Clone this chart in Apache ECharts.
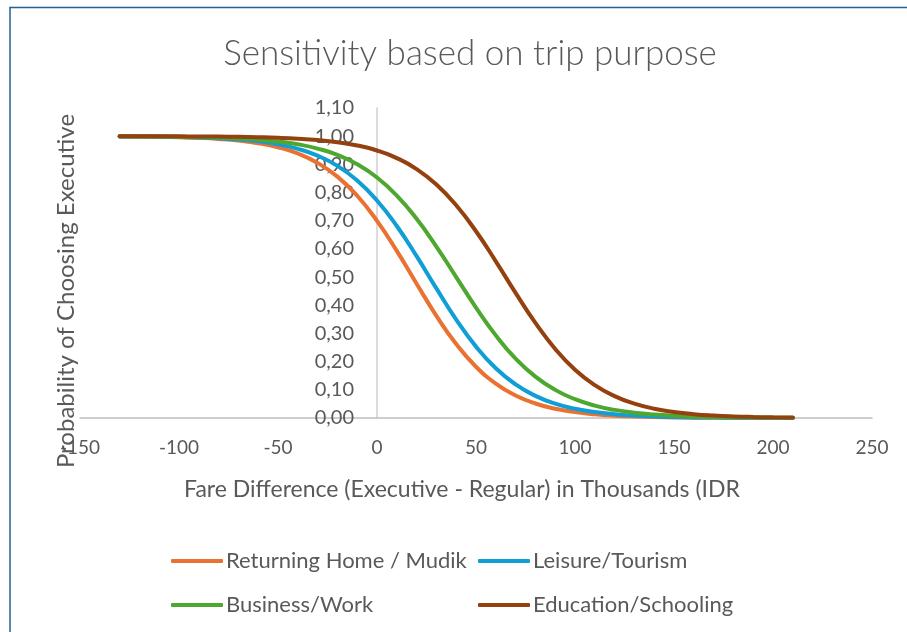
<!DOCTYPE html>
<html>
<head>
<meta charset="utf-8">
<script src="https://cdn.jsdelivr.net/npm/echarts@6/dist/echarts.min.js"></script>
<style>
html,body{margin:0;padding:0;background:#fff;}
#c{width:907px;height:632px;}
</style>
</head>
<body>
<div id="c"></div>
<script>
const fareDiff = [-130,-120,-110,-100,-90,-80,-70,-60,-50,-40,-30,-20,-10,0,10,20,30,40,50,60,70,80,90,100,110,120,130,140,150,160,170,180,190,200,210];
const returningHome = [0.9990,0.9985,0.9976,0.9961,0.9938,0.9901,0.9843,0.9751,0.9607,0.9385,0.9051,0.8565,0.7885,0.6997,0.5929,0.4765,0.3626,0.2623,0.1819,0.1220,0.0799,0.0515,0.0328,0.0208,0.0131,0.0082,0.0052,0.0032,0.0020,0.0013,0.0008,0.0005,0.0003,0.0002,0.0001];
const leisure = [0.9993,0.9988,0.9981,0.9970,0.9953,0.9926,0.9883,0.9816,0.9712,0.9552,0.9308,0.8946,0.8427,0.7719,0.6812,0.5742,0.4598,0.3495,0.2533,0.1764,0.1191,0.0786,0.0511,0.0329,0.0210,0.0134,0.0085,0.0054,0.0034,0.0021,0.0014,0.0009,0.0005,0.0003,0.0002];
const business = [0.9994,0.9991,0.9986,0.9979,0.9967,0.9949,0.9922,0.9879,0.9813,0.9713,0.9560,0.9334,0.9002,0.8532,0.7892,0.7068,0.6083,0.5000,0.3917,0.2932,0.2108,0.1468,0.0998,0.0666,0.0439,0.0288,0.0187,0.0121,0.0078,0.0051,0.0033,0.0021,0.0014,0.0009,0.0006];
const education = [0.9998,0.9998,0.9996,0.9994,0.9991,0.9985,0.9977,0.9964,0.9944,0.9912,0.9863,0.9787,0.9669,0.9491,0.9223,0.8834,0.8285,0.7549,0.6626,0.5560,0.4440,0.3374,0.2451,0.1715,0.1166,0.0776,0.0509,0.0331,0.0214,0.0137,0.0088,0.0056,0.0036,0.0023,0.0015];
const seriesNames = ['Returning Home / Mudik','Leisure/Tourism','Business/Work','Education/Schooling'];
const seriesColors = ['#E97132','#0F9ED5','#4EA72E','#94400F'];
const titleText = 'Sensitivity based on trip purpose';
const xTitle = 'Fare Difference (Executive - Regular) in Thousands (IDR';
const yTitle = 'Probability of Choosing Executive';

const FONT = 'Lato';
const TXT = '#595959';
const allValues = [returningHome, leisure, business, education];
const chart = echarts.init(document.getElementById('c'), null, {renderer:'canvas'});
chart.setOption({
  backgroundColor:'#fff',
  animation:false,
  title:{text:titleText,left:465,top:31,textAlign:'center',
    textStyle:{fontFamily:FONT,fontSize:35,fontWeight:300,color:TXT}},
  grid:{left:80,right:35,top:108,bottom:214,containLabel:false},
  xAxis:{type:'value',min:-150,max:250,interval:50,
    axisLine:{onZero:true,lineStyle:{color:'#bfbfbf',width:1.5}},
    axisTick:{show:false},splitLine:{show:false},
    axisLabel:{margin:20,fontFamily:FONT,fontSize:19,color:TXT}},
  yAxis:{type:'value',min:0,max:1.1,interval:0.1,offset:-297,
    axisLine:{show:true,onZero:false,lineStyle:{color:'#d0d0d0',width:1.5}},
    axisTick:{show:false},splitLine:{show:false},
    axisLabel:{margin:23,fontFamily:FONT,fontSize:20,color:TXT,
      formatter:v=>v.toFixed(2).replace('.',',')}},
  legend:[
    {data:[seriesNames[0],seriesNames[2]],orient:'vertical',left:166,top:545,itemGap:22,
     itemWidth:52,itemHeight:4,icon:'roundRect',
     textStyle:{fontFamily:FONT,fontSize:22,color:TXT,padding:[0,0,0,-2]}},
    {data:[seriesNames[1],seriesNames[3]],orient:'vertical',left:473,top:545,itemGap:22,
     itemWidth:52,itemHeight:4,icon:'roundRect',
     textStyle:{fontFamily:FONT,fontSize:22,color:TXT,padding:[0,0,0,-2]}}
  ],
  graphic:[
    {type:'rect',shape:{x:10,y:7.5,width:920,height:660},
     style:{fill:null,stroke:'#23628e',lineWidth:1.5},silent:true,z:-1},
    {type:'text',x:66,y:291,rotation:Math.PI/2,
     style:{text:yTitle,fontFamily:FONT,fontSize:24,fill:TXT,align:'center',verticalAlign:'middle'}},
    {type:'text',x:462,y:490,
     style:{text:xTitle,fontFamily:FONT,fontSize:23,fill:TXT,align:'center',verticalAlign:'middle'}}
  ],
  series: seriesNames.map((n,i)=>({
    name:n,type:'line',smooth:true,showSymbol:false,symbol:'none',
    lineStyle:{color:seriesColors[i],width:4,cap:'round'},
    itemStyle:{color:seriesColors[i]},
    data: fareDiff.map((x,j)=>[x, allValues[i][j]])
  }))
});
</script>
</body>
</html>
